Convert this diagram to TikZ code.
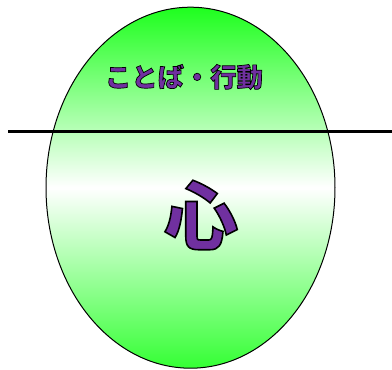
\documentclass[tikz,border=0pt]{standalone}
\usepackage{fontspec}
\usetikzlibrary{shapes.geometric}
\newfontfamily\jp{Noto Sans CJK JP}
\definecolor{egggreen}{RGB}{30,255,30}
\definecolor{txtpurple}{RGB}{112,48,160}
\newcommand\outlinedtext[2]{\special{pdf:literal direct 2 Tr #1 w 0 0 0 RG}#2\special{pdf:literal direct 0 Tr}}
\tikzset{
  egg/.style={ellipse, draw=black, line width=1pt, minimum width=289pt, minimum height=361pt,
    inner sep=0pt, top color=egggreen, bottom color=egggreen!90!white, middle color=white},
  divider/.style={line width=3pt, black},
  wordfont/.style={font=\jp\bfseries\fontsize{26.3}{26.3}\selectfont, inner sep=0pt, text=txtpurple},
  heartfont/.style={font=\jp\bfseries\fontsize{74}{74}\selectfont, inner sep=0pt, text=txtpurple},
}
\begin{document}
\begin{tikzpicture}[x=1pt,y=-1pt]
\useasboundingbox (0,0) rectangle (392,370);
\node[egg] (eggshape) at (190.5,187.7) {};
\coordinate (lineL) at (8,131);
\coordinate (lineR) at (392,131);
\draw[divider] (lineL) -- (lineR);
\node[wordfont] (words) at (184,77) {\outlinedtext{0.7}{ことば・行動}};
\node[heartfont] (heart) at (201,215) {\outlinedtext{1.6}{心}};
\end{tikzpicture}
\end{document}
